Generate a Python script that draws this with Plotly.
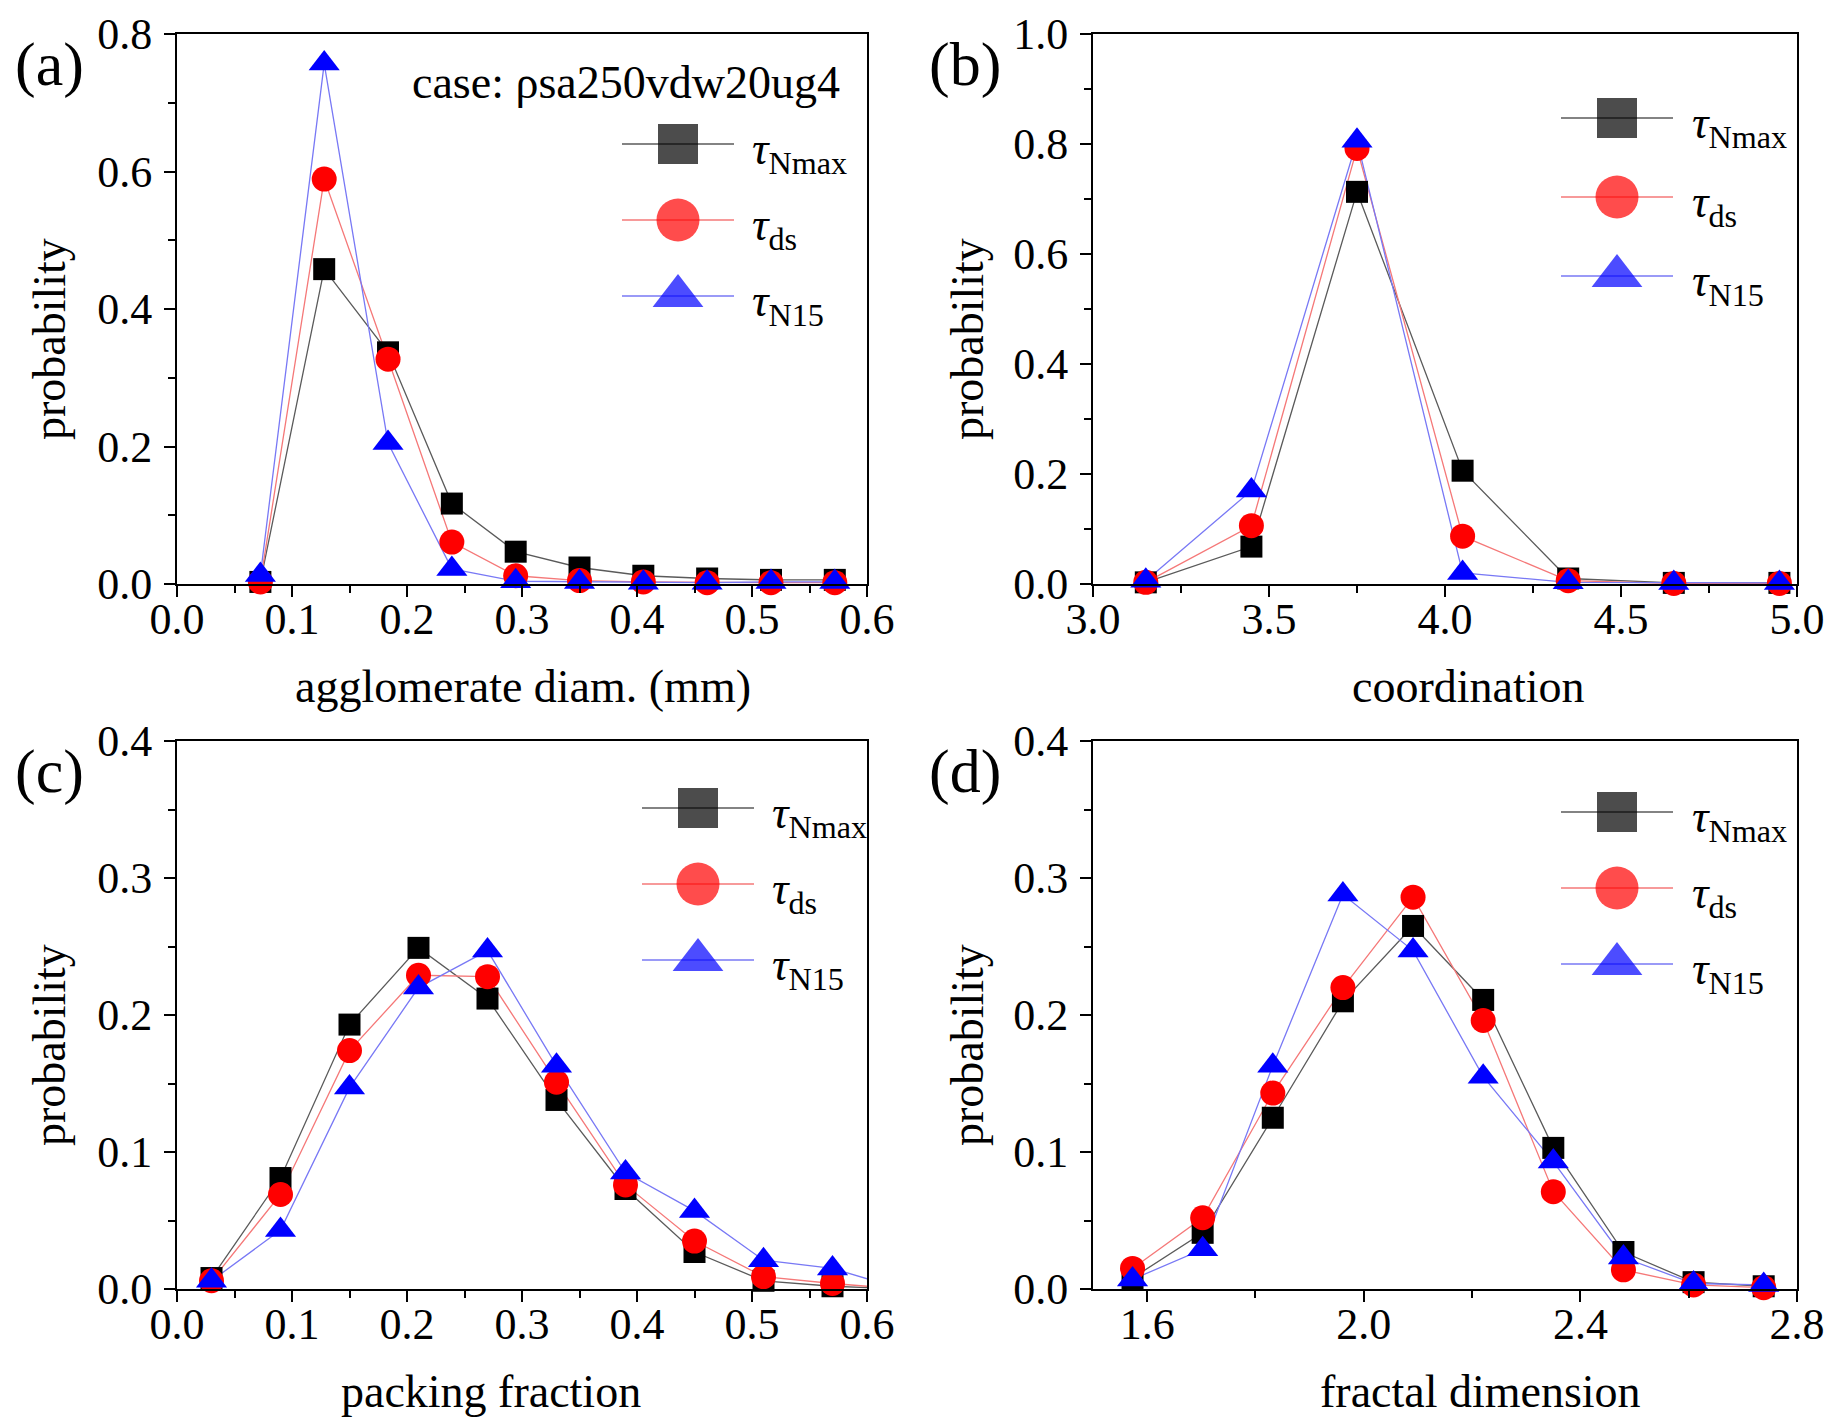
import plotly.graph_objects as go

W, H = 1824, 1417
FONT = "Liberation Serif"

# ---------------- data ----------------
series_names = ["τNmax", "τds", "τN15"]

a_x = [0.0725, 0.128, 0.1835, 0.239, 0.2945, 0.35, 0.4055, 0.461, 0.5165, 0.572]
a_nmax = [0.003, 0.458, 0.337, 0.117, 0.047, 0.024, 0.012, 0.008, 0.006, 0.006]
a_ds = [0.003, 0.589, 0.327, 0.061, 0.012, 0.005, 0.003, 0.002, 0.002, 0.002]
a_n15 = [0.013, 0.757, 0.205, 0.022, 0.004, 0.003, 0.002, 0.002, 0.003, 0.003]

b_x = [3.15, 3.45, 3.75, 4.05, 4.35, 4.65, 4.95]
b_nmax = [0.003, 0.068, 0.713, 0.206, 0.010, 0.002, 0.002]
b_ds = [0.003, 0.106, 0.792, 0.087, 0.006, 0.001, 0.001]
b_n15 = [0.006, 0.170, 0.806, 0.020, 0.003, 0.002, 0.002]

c_x = [0.03, 0.09, 0.15, 0.21, 0.27, 0.33, 0.39, 0.45, 0.51, 0.57, 0.63]
c_nmax = [0.008, 0.081, 0.193, 0.249, 0.212, 0.138, 0.073, 0.027, 0.006, 0.002, 0.0]
c_ds = [0.006, 0.069, 0.174, 0.229, 0.228, 0.151, 0.076, 0.035, 0.009, 0.004, 0.0]
c_n15 = [0.006, 0.043, 0.147, 0.220, 0.247, 0.163, 0.085, 0.057, 0.021, 0.015, 0.0]

d_x = [1.573, 1.7025, 1.832, 1.9615, 2.091, 2.2205, 2.35, 2.4795, 2.609, 2.7385]
d_nmax = [0.008, 0.041, 0.125, 0.210, 0.265, 0.211, 0.103, 0.027, 0.005, 0.002]
d_ds = [0.015, 0.052, 0.143, 0.220, 0.286, 0.196, 0.071, 0.014, 0.003, 0.001]
d_n15 = [0.007, 0.029, 0.163, 0.288, 0.247, 0.155, 0.093, 0.023, 0.004, 0.003]

panels = [
    dict(x=a_x, ys=[a_nmax, a_ds, a_n15], xr=[0, 0.6], yr=[0, 0.8],
         xd=0.1, xm=0.05, yd=0.2, ym=0.1, xtitle="agglomerate diam. (mm)", label="(a)"),
    dict(x=b_x, ys=[b_nmax, b_ds, b_n15], xr=[3.0, 5.0], yr=[0, 1.0],
         xd=0.5, xm=0.25, yd=0.2, ym=0.1, xtitle="coordination", label="(b)"),
    dict(x=c_x, ys=[c_nmax, c_ds, c_n15], xr=[0, 0.6], yr=[0, 0.4],
         xd=0.1, xm=0.05, yd=0.1, ym=0.05, xtitle="packing fraction", label="(c)"),
    dict(x=d_x, ys=[d_nmax, d_ds, d_n15], xr=[1.5, 2.8], yr=[0, 0.4],
         xd=0.4, xm=0.2, yd=0.1, ym=0.05, xtitle="fractal dimension", label="(d)", x0=1.6),
]

# pixel boxes of plotting areas: (left, right, top, bottom)
boxes = [(177, 867, 34, 584), (1093, 1797, 34, 584),
         (177, 867, 741, 1289), (1093, 1797, 741, 1289)]
xtitle_cx = [523, 1468, 491, 1480]
ytitle_cx = [49, 967, 49, 967]

line_colors = ["rgb(90,90,90)", "rgb(245,120,120)", "rgb(120,120,245)"]
mk_colors = ["black", "red", "blue"]
symbols = ["square", "circle", "triangle-up"]
mk_sizes = [22, 25, 27]

fig = go.Figure()
layout = dict(width=W, height=H, margin=dict(l=0, r=0, t=0, b=0, autoexpand=False),
              paper_bgcolor="white", plot_bgcolor="rgba(0,0,0,0)",
              showlegend=False, font=dict(family=FONT, color="black"))
annotations = []

for i, (p, box) in enumerate(zip(panels, boxes)):
    k = i + 1
    xa = "xaxis" if k == 1 else f"xaxis{k}"
    ya = "yaxis" if k == 1 else f"yaxis{k}"
    xref = "x" if k == 1 else f"x{k}"
    yref = "y" if k == 1 else f"y{k}"
    l, r, t, b = box
    common = dict(showline=True, linewidth=2, linecolor="black", mirror=True,
                  ticks="outside", ticklen=11, tickwidth=2, tickcolor="black",
                  showgrid=False, zeroline=False, automargin=False,
                  ticklabeloverflow="allow",
                  tickfont=dict(family=FONT, size=44, color="black"))
    layout[xa] = dict(common, domain=[l / W, r / W], range=p["xr"],
                      tick0=p.get("x0", p["xr"][0]), dtick=p["xd"],
                      tickformat=".1f", anchor=yref, ticklabelstandoff=-16,
                      minor=dict(ticks="outside", ticklen=7, tickwidth=2,
                                 dtick=p["xm"], tick0=p.get("x0", p["xr"][0]),
                                 tickcolor="black"))
    layout[ya] = dict(common, domain=[1 - b / H, 1 - t / H], range=p["yr"],
                      tick0=0, dtick=p["yd"], tickformat=".1f", anchor=xref,
                      ticklabelstandoff=3,
                      minor=dict(ticks="outside", ticklen=7, tickwidth=2,
                                 dtick=p["ym"], tick0=0, tickcolor="black"))
    # lines
    for s, ys in enumerate(p["ys"]):
        fig.add_trace(go.Scatter(x=p["x"], y=ys, mode="lines", xaxis=xref, yaxis=yref,
                                 line=dict(color=line_colors[s], width=1.3),
                                 name=series_names[s], hoverinfo="skip"))
    # markers (only inside x range)
    for s, ys in enumerate(p["ys"]):
        xs = [xv for xv in p["x"] if p["xr"][0] <= xv <= p["xr"][1]]
        yv = [yy for xv, yy in zip(p["x"], ys) if p["xr"][0] <= xv <= p["xr"][1]]
        fig.add_trace(go.Scatter(x=xs, y=yv, mode="markers", xaxis=xref, yaxis=yref,
                                 cliponaxis=False, name=series_names[s],
                                 marker=dict(symbol=symbols[s], color=mk_colors[s],
                                             size=mk_sizes[s], line=dict(width=0))))
    # axis titles
    annotations.append(dict(xref="paper", yref="paper", x=xtitle_cx[i] / W,
                            y=1 - (b + 102) / H, text=p["xtitle"], showarrow=False,
                            font=dict(family=FONT, size=46, color="black"),
                            xanchor="center", yanchor="middle"))
    annotations.append(dict(xref="paper", yref="paper", x=ytitle_cx[i] / W,
                            y=1 - ((t + b) / 2 + 30) / H, text="probability",
                            showarrow=False, textangle=-90,
                            font=dict(family=FONT, size=46, color="black"),
                            xanchor="center", yanchor="middle"))
    annotations.append(dict(xref="paper", yref="paper", x=(l - 128) / W,
                            y=1 - (t + 30) / H, text=p["label"], showarrow=False,
                            font=dict(family=FONT, size=62, color="black"),
                            xanchor="center", yanchor="middle"))

# ---- manual legends on a full-figure overlay axis in pixel units ----
layout["xaxis5"] = dict(domain=[0, 1], range=[0, W], visible=False, anchor="y5",
                        fixedrange=True)
layout["yaxis5"] = dict(domain=[0, 1], range=[H, 0], visible=False, anchor="x5",
                        fixedrange=True)
legend_pos = [  # (marker center x, y of first entry, spacing, text x)
    (678, 144, 76, 750),
    (1617, 118, 79, 1690),
    (698, 808, 76, 770),
    (1617, 812, 76, 1690),
]
leg_sizes = [40, 43, 44]
subs = ["Nmax", "ds", "N15"]
for (cx, cy, dy, tx) in legend_pos:
    for s in range(3):
        yy = cy + s * dy
        fig.add_trace(go.Scatter(x=[cx - 56, cx, cx + 56], y=[yy, yy, yy],
                                 mode="lines+markers", xaxis="x5", yaxis="y5",
                                 cliponaxis=False, hoverinfo="skip",
                                 line=dict(color=line_colors[s], width=1.3),
                                 marker=dict(symbol=symbols[s], color=mk_colors[s],
                                             size=[0, leg_sizes[s], 0], line=dict(width=0))))
        annotations.append(dict(xref="paper", yref="paper", x=tx / W, y=1 - (yy + 8) / H,
                                text=f"<i>τ</i><sub>{subs[s]}</sub>", showarrow=False,
                                xanchor="left", yanchor="middle",
                                font=dict(family=FONT, size=46, color="black")))

annotations.append(dict(xref="paper", yref="paper", x=842 / W, y=1 - 82 / H,
                        text="case: ρsa250vdw20ug4", showarrow=False,
                        xanchor="right", yanchor="middle",
                        font=dict(family=FONT, size=46, color="black")))

layout["annotations"] = annotations
fig.update_layout(**layout)
fig.write_html("out.html")
